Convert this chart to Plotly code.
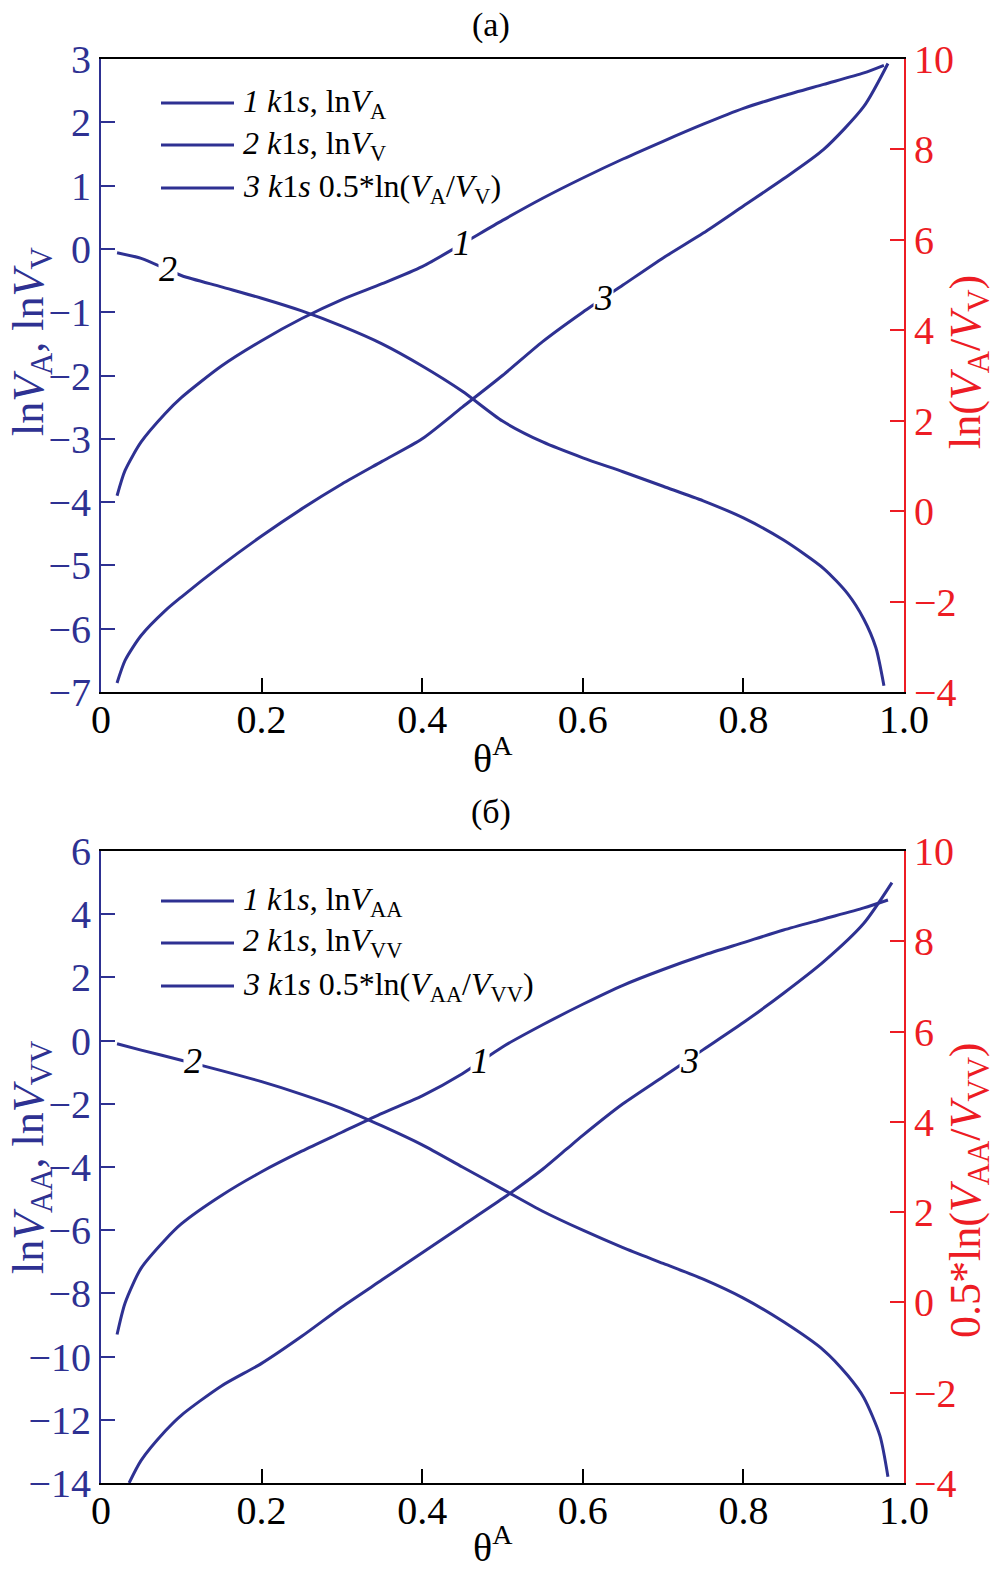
import plotly.graph_objects as go

BLUE = "#2e3192"
RED = "#ed1c24"
FONT = "Liberation Serif"

# ---------------- data: panel (a) ----------------
a1_x = [0.02, 0.03, 0.05, 0.08, 0.1, 0.15, 0.2, 0.25, 0.3, 0.35, 0.4, 0.45, 0.5, 0.55, 0.6, 0.65, 0.7, 0.75, 0.8, 0.85, 0.9, 0.95, 0.975]
a1_y = [-3.9, -3.5, -3.05, -2.6, -2.35, -1.85, -1.45, -1.1, -0.8, -0.55, -0.28, 0.08, 0.45, 0.8, 1.12, 1.42, 1.7, 1.97, 2.22, 2.42, 2.6, 2.78, 2.9]
a2_x = [0.02, 0.05, 0.1, 0.15, 0.2, 0.25, 0.3, 0.35, 0.4, 0.45, 0.5, 0.55, 0.6, 0.65, 0.7, 0.75, 0.8, 0.85, 0.9, 0.93, 0.95, 0.965, 0.975]
a2_y = [-0.06, -0.15, -0.42, -0.6, -0.78, -0.98, -1.22, -1.5, -1.85, -2.25, -2.72, -3.05, -3.3, -3.52, -3.75, -3.98, -4.25, -4.6, -5.05, -5.45, -5.85, -6.3, -6.9]
a3_x = [0.02, 0.03, 0.05, 0.08, 0.1, 0.15, 0.2, 0.25, 0.3, 0.35, 0.4, 0.45, 0.5, 0.55, 0.6, 0.65, 0.7, 0.75, 0.8, 0.85, 0.9, 0.95, 0.98]
a3_y = [-3.8, -3.3, -2.75, -2.2, -1.9, -1.2, -0.55, 0.05, 0.6, 1.1, 1.6, 2.3, 3.0, 3.75, 4.4, 5.0, 5.6, 6.15, 6.75, 7.35, 8.0, 8.95, 9.9]

# ---------------- data: panel (b) ----------------
b1_x = [0.02, 0.03, 0.05, 0.08, 0.1, 0.15, 0.2, 0.25, 0.3, 0.35, 0.4, 0.45, 0.5, 0.55, 0.6, 0.65, 0.7, 0.75, 0.8, 0.85, 0.9, 0.95, 0.98]
b1_y = [-9.3, -8.3, -7.2, -6.3, -5.8, -4.9, -4.15, -3.5, -2.9, -2.3, -1.75, -1.05, -0.2, 0.5, 1.15, 1.75, 2.25, 2.7, 3.1, 3.5, 3.85, 4.2, 4.45]
b2_x = [0.02, 0.05, 0.1, 0.15, 0.2, 0.25, 0.3, 0.35, 0.4, 0.45, 0.5, 0.55, 0.6, 0.65, 0.7, 0.75, 0.8, 0.85, 0.9, 0.93, 0.95, 0.97, 0.98]
b2_y = [-0.1, -0.3, -0.62, -0.95, -1.3, -1.7, -2.15, -2.7, -3.3, -4.0, -4.7, -5.4, -6.0, -6.55, -7.05, -7.55, -8.15, -8.9, -9.8, -10.6, -11.3, -12.5, -13.8]
b3_x = [0.035, 0.05, 0.08, 0.1, 0.15, 0.2, 0.25, 0.3, 0.35, 0.4, 0.45, 0.5, 0.55, 0.58, 0.6, 0.65, 0.7, 0.75, 0.8, 0.85, 0.9, 0.95, 0.985]
b3_y = [-4.0, -3.5, -2.85, -2.5, -1.85, -1.35, -0.75, -0.1, 0.5, 1.1, 1.7, 2.3, 2.95, 3.4, 3.7, 4.4, 5.0, 5.6, 6.2, 6.85, 7.55, 8.4, 9.3]

x_ticks = [0, 0.2, 0.4, 0.6, 0.8, 1.0]
x_ticktext = ["0", "0.2", "0.4", "0.6", "0.8", "1.0"]

legend_a = ["<i>1 k</i>1<i>s</i>, ln<i>V</i><sub>A</sub>",
            "<i>2 k</i>1<i>s</i>, ln<i>V</i><sub>V</sub>",
            "<i>3 k</i>1<i>s</i> 0.5*ln(<i>V</i><sub>A</sub>/<i>V</i><sub>V</sub>)"]
legend_b = ["<i>1 k</i>1<i>s</i>, ln<i>V</i><sub>AA</sub>",
            "<i>2 k</i>1<i>s</i>, ln<i>V</i><sub>VV</sub>",
            "<i>3 k</i>1<i>s</i> 0.5*ln(<i>V</i><sub>AA</sub>/<i>V</i><sub>VV</sub>)"]

# page body has an 8px margin: the figure is made 8px smaller and
# screen pixel positions are converted to paper fractions accordingly
OFF = 8
W, H = 1003 - OFF, 1575 - OFF
def px(x):
    return (x - OFF) / W
def py(y):
    return 1 - (y - OFF) / H

XDOM = [px(101), px(904)]
YDOM_A = [py(692), py(59)]
YDOM_B = [py(1483), py(851)]

fig = go.Figure()
line = dict(color=BLUE, width=3, shape="spline", smoothing=0.7)
fig.add_trace(go.Scatter(x=a1_x, y=a1_y, mode="lines", line=line, xaxis="x", yaxis="y", showlegend=False))
fig.add_trace(go.Scatter(x=a2_x, y=a2_y, mode="lines", line=line, xaxis="x", yaxis="y", showlegend=False))
fig.add_trace(go.Scatter(x=a3_x, y=a3_y, mode="lines", line=line, xaxis="x", yaxis="y2", showlegend=False))
fig.add_trace(go.Scatter(x=b1_x, y=b1_y, mode="lines", line=line, xaxis="x2", yaxis="y3", showlegend=False))
fig.add_trace(go.Scatter(x=b2_x, y=b2_y, mode="lines", line=line, xaxis="x2", yaxis="y3", showlegend=False))
fig.add_trace(go.Scatter(x=b3_x, y=b3_y, mode="lines", line=line, xaxis="x2", yaxis="y4", showlegend=False))

TS = 40
tickfont_k = dict(family=FONT, size=TS, color="black")
tickfont_b = dict(family=FONT, size=TS, color=BLUE)
tickfont_r = dict(family=FONT, size=TS, color=RED)

def xaxis(anchor):
    return dict(domain=XDOM, anchor=anchor, range=[0, 1], tickvals=x_ticks, ticktext=x_ticktext,
                ticks="inside", ticklen=14, tickwidth=2, tickcolor="black", automargin=False,
                showline=True, linecolor="black", linewidth=2, mirror=True, ticklabelstandoff=-9,
                showgrid=False, zeroline=False, tickfont=tickfont_k)

def yleft(dom, rng, dt, anchor):
    return dict(domain=dom, anchor=anchor, range=rng, dtick=dt, tick0=0, automargin=False,
                ticks="inside", ticklen=14, tickwidth=2, tickcolor=BLUE,
                showline=True, linecolor=BLUE, linewidth=2,
                showgrid=False, zeroline=False, tickfont=tickfont_b)

def yright(rng, dt, anchor, over):
    return dict(overlaying=over, side="right", anchor=anchor, range=rng, dtick=dt, tick0=0,
                automargin=False,
                ticks="inside", ticklen=14, tickwidth=2, tickcolor=RED,
                showline=True, linecolor=RED, linewidth=2,
                showgrid=False, zeroline=False, tickfont=tickfont_r)

fig.update_layout(
    width=W, height=H, margin=dict(l=0, r=0, t=0, b=0, pad=0, autoexpand=False),
    paper_bgcolor="white", plot_bgcolor="white", showlegend=False,
    font=dict(family=FONT),
    xaxis=xaxis("y"),
    yaxis=yleft(YDOM_A, [-7, 3], 1, "x"),
    yaxis2=yright([-4, 10], 2, "x", "y"),
    xaxis2=xaxis("y3"),
    yaxis3=yleft(YDOM_B, [-14, 6], 2, "x2"),
    yaxis4=yright([-4, 10], 2, "x2", "y3"),
)

ann = []
def txt(x, y, text, size, color="black", angle=0, xanchor="center", xref="paper", yref="paper", bg=None):
    d = dict(x=x, y=y, xref=xref, yref=yref, text=text, showarrow=False,
             font=dict(family=FONT, size=size, color=color), textangle=angle,
             xanchor=xanchor, yanchor="middle")
    if bg:
        d.update(bgcolor=bg, borderpad=0)
    ann.append(d)

# panel titles
txt(px(491), py(25), "(a)", 34)
txt(px(491), py(812), "(б)", 34)
# x titles
txt(px(493), py(755), "θ<sup>A</sup>", 40)
txt(px(493), py(1544), "θ<sup>A</sup>", 40)
# y titles
txt(px(31), py(342), "ln<i>V</i><sub>A</sub>, ln<i>V</i><sub>V</sub>", 44, BLUE, -90)
txt(px(968), py(362), "ln(<i>V</i><sub>A</sub>/<i>V</i><sub>V</sub>)", 44, RED, -90)
txt(px(31), py(1158), "ln<i>V</i><sub>AA</sub>, ln<i>V</i><sub>VV</sub>", 44, BLUE, -90)
txt(px(968), py(1190), "0.5*ln(<i>V</i><sub>AA</sub>/<i>V</i><sub>VV</sub>)", 44, RED, -90)

# curve labels (white background breaks the line)
txt(0.084, -0.32, "<i>2</i>", 36, xref="x", yref="y", bg="white")
txt(0.45, 0.1, "<i>1</i>", 36, xref="x", yref="y", bg="white")
txt(0.626, 4.71, "<i>3</i>", 36, xref="x", yref="y2", bg="white")
txt(0.115, -0.66, "<i>2</i>", 36, xref="x2", yref="y3", bg="white")
txt(0.4725, -0.66, "<i>1</i>", 36, xref="x2", yref="y3", bg="white")
txt(0.7325, 5.35, "<i>3</i>", 36, xref="x2", yref="y4", bg="white")

# legends
shapes = []
for rows, labels in (([103, 145, 188], legend_a), ([901, 943, 986], legend_b)):
    for yy, lab in zip(rows, labels):
        shapes.append(dict(type="line", xref="paper", yref="paper", x0=px(161), x1=px(234),
                           y0=py(yy), y1=py(yy), line=dict(color=BLUE, width=3)))
        txt(px(241), py(yy), lab, 32, xanchor="left")

fig.update_layout(annotations=ann, shapes=shapes)
fig.write_html("out.html")
